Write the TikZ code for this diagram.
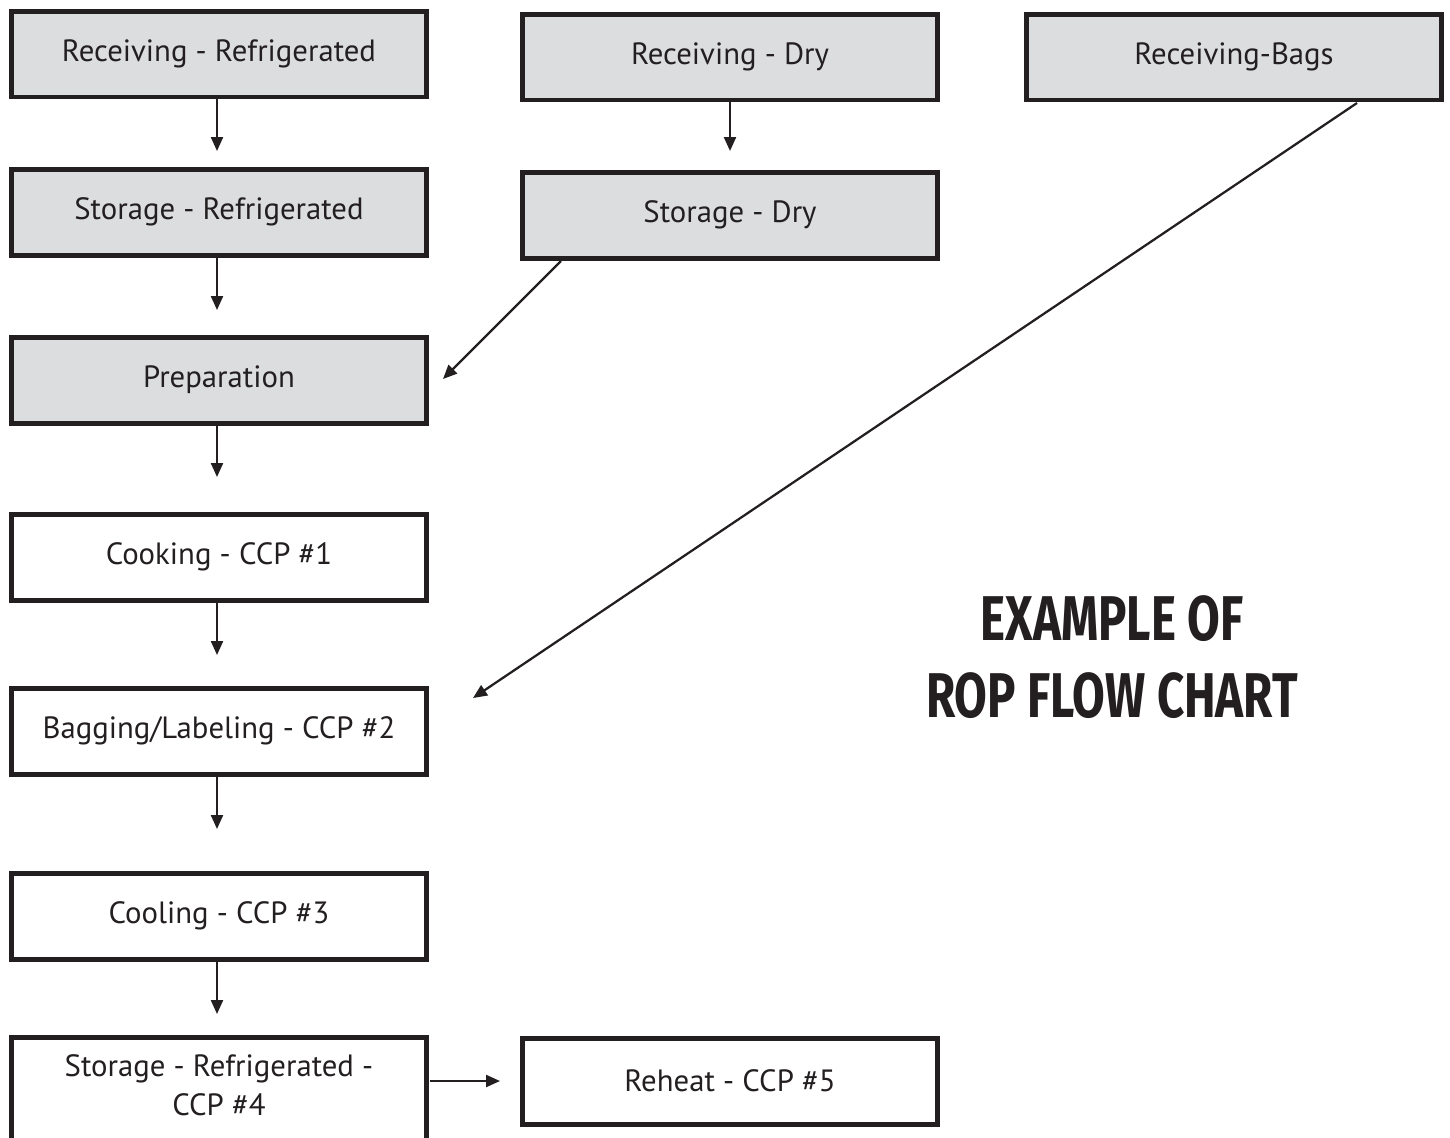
\documentclass[tikz,border=0pt]{standalone}
\usepackage{fontspec}
\setmainfont{PT Sans}
\newfontfamily\titlefont{Fira Sans}
\usetikzlibrary{arrows.meta,calc}
\definecolor{ink}{RGB}{35,31,32}
\definecolor{boxgray}{RGB}{220,221,223}
\begin{document}
\begin{tikzpicture}[x=0.02cm,y=-0.02cm,
  flowbox/.style={draw=ink, line width=0.1cm, minimum width=8.32cm, minimum height=1.72cm,
    inner sep=0pt, font=\fontsize{17.5}{21}\selectfont, text=ink},
  graybox/.style={flowbox, fill=boxgray},
  arr/.style={draw=ink, line width=0.045cm, -{Triangle[length=0.28cm,width=0.24cm]}},
  txt/.style={font=\fontsize{17.5}{22}\selectfont, text=ink, align=center, inner sep=0pt}]
\useasboundingbox (0,0) rectangle (1450,1137);
\fill[white] (0,0) rectangle (1450,1137);

\node[graybox] (rr) at (219,54) {Receiving - Refrigerated};
\node[graybox] (rd) at (730,57) {Receiving - Dry};
\node[graybox] (rb) at (1234,57) {Receiving-Bags};
\node[graybox] (sr) at (219,212) {Storage - Refrigerated};
\node[graybox] (sd) at (730,215) {Storage - Dry};
\node[graybox] (pr) at (219,380) {Preparation};
\node[flowbox] (ck) at (219,557) {Cooking - CCP \#1};
\node[flowbox] (bg) at (219,731) {Bagging/Labeling - CCP \#2};
\node[flowbox] (cl) at (219,916) {Cooling - CCP \#3};
\node[flowbox, anchor=north, minimum height=2.8cm] (s4) at (219,1035) {};
\node[txt] (s4t) at (219,1085) {Storage - Refrigerated -\\CCP \#4};
\node[flowbox] (rh) at (730,1081) {Reheat - CCP \#5};

\node[font=\titlefont\bfseries\fontsize{36}{44}\selectfont, text=ink, align=center, inner sep=0pt] (title) at (1112,657)
  {\scalebox{0.75}[1]{EXAMPLE OF}\\\scalebox{0.75}[1]{ROP FLOW CHART}};

\coordinate (e1) at (217,151);
\coordinate (e2) at (730,151);
\coordinate (e3) at (217,310);
\coordinate (e4) at (443,379);
\coordinate (e5) at (217,477);
\coordinate (e6) at (217,655);
\coordinate (e7) at (473,698);
\coordinate (e8) at (217,829);
\coordinate (e9) at (217,1014);
\coordinate (e10) at (500,1081);
\coordinate (b1) at (561,261);
\coordinate (b2) at (1357,103);
\coordinate (b3) at (430,1081);

\draw[arr] (rr.south -| e1) -- (e1);
\draw[arr] (rd.south) -- (e2);
\draw[arr] (sr.south -| e3) -- (e3);
\draw[arr] (b1) -- (e4);
\draw[arr] (pr.south -| e5) -- (e5);
\draw[arr] (ck.south -| e6) -- (e6);
\draw[arr] (b2) -- (e7);
\draw[arr] (bg.south -| e8) -- (e8);
\draw[arr] (cl.south -| e9) -- (e9);
\draw[arr] (b3) -- (e10);
\end{tikzpicture}
\end{document}
